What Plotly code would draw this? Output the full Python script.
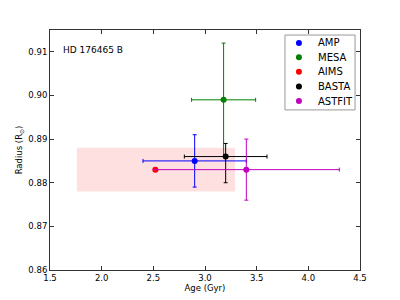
import plotly.graph_objects as go

# Data
names = ["AMP", "MESA", "AIMS", "BASTA", "ASTFIT"]
ages = [2.90, 3.18, 2.52, 3.20, 3.40]
age_err_minus = [0.50, 0.31, 0.0, 0.40, 0.90]
age_err_plus = [0.50, 0.31, 0.0, 0.40, 0.90]
radii = [0.885, 0.899, 0.883, 0.886, 0.883]
rad_err_minus = [0.006, 0.013, 0.0, 0.006, 0.007]
rad_err_plus = [0.006, 0.013, 0.0, 0.003, 0.007]
colors = ["#0000ff", "#008000", "#ff0000", "#000000", "#bf00bf"]
has_err = [True, True, False, True, True]

# shaded region (AIMS uncertainty box)
box_age = [1.76, 3.29]
box_radius = [0.878, 0.888]

x_ticks = [1.5, 2.0, 2.5, 3.0, 3.5, 4.0, 4.5]
y_ticks = [0.86, 0.87, 0.88, 0.89, 0.90, 0.91]

font = "DejaVu Sans"
fig = go.Figure()

for i, n in enumerate(names):
    kw = {}
    if has_err[i]:
        kw["error_x"] = dict(type="data", symmetric=False, array=[age_err_plus[i]],
                             arrayminus=[age_err_minus[i]], color=colors[i],
                             thickness=1, width=2)
        kw["error_y"] = dict(type="data", symmetric=False, array=[rad_err_plus[i]],
                             arrayminus=[rad_err_minus[i]], color=colors[i],
                             thickness=1, width=2)
    fig.add_trace(go.Scatter(x=[ages[i]], y=[radii[i]], mode="markers", name=n,
                             marker=dict(color=colors[i], size=6, line=dict(width=0)),
                             showlegend=False, **kw))

fig.add_shape(type="rect", xref="x", yref="y", x0=box_age[0], x1=box_age[1],
              y0=box_radius[0], y1=box_radius[1],
              fillcolor="rgba(255,0,0,0.12)", line=dict(width=0), layer="below")

fig.add_annotation(text="HD 176465 B", xref="paper", yref="paper", x=0.035, y=0.915,
                   xanchor="left", yanchor="middle", showarrow=False,
                   font=dict(family=font, size=9, color="black"))

# Legend (matplotlib-like, compact), drawn on an overlay axis spanning the plot area
leg_x0, leg_x1, leg_top, leg_bot = 0.758, 0.984, 0.979, 0.667
leg_marker_x, leg_text_x = 0.803, 0.858
leg_rows = [0.946, 0.886, 0.826, 0.765, 0.704]
fig.add_shape(type="rect", xref="paper", yref="paper", x0=leg_x0, x1=leg_x1,
              y0=leg_bot, y1=leg_top, fillcolor="white",
              line=dict(color="#999999", width=1), layer="below")
fig.add_trace(go.Scatter(x=[leg_marker_x] * len(names), y=leg_rows, mode="markers",
                         marker=dict(color=colors, size=6, line=dict(width=0)),
                         xaxis="x2", yaxis="y2", showlegend=False, hoverinfo="skip"))
for n, yy in zip(names, leg_rows):
    fig.add_annotation(text=n, xref="paper", yref="paper", x=leg_text_x, y=yy,
                       xanchor="left", yanchor="middle", showarrow=False,
                       font=dict(family=font, size=10, color="black"))

axis_common = dict(showgrid=False, zeroline=False, ticks="inside", ticklen=4,
                   tickcolor="#333333", showline=True, linecolor="#333333", linewidth=1,
                   mirror="ticks", automargin=False,
                   tickfont=dict(family=font, size=8.5, color="black"))

# page body has 8px default margin; compensate so plot area sits at x 50-360, y 30-270
fig.update_layout(
    width=392, height=292,
    margin=dict(l=42, r=40, t=22, b=30),
    paper_bgcolor="white", plot_bgcolor="white",
    font=dict(family=font, size=8.5, color="black"),
    xaxis=dict(range=[1.5, 4.5], tickvals=x_ticks,
               ticktext=[f"{v:.1f}" for v in x_ticks],
               title=dict(text="Age (Gyr)", standoff=2, font=dict(family=font, size=8.5)),
               **axis_common),
    yaxis=dict(range=[0.86, 0.915], tickvals=y_ticks,
               ticktext=[f"{v:.2f}" for v in y_ticks],
               title=dict(text="Radius (R<sub>⊙</sub>)", standoff=4, font=dict(family=font, size=8.5)),
               **axis_common),
    xaxis2=dict(overlaying="x", range=[0, 1], visible=False, fixedrange=True),
    yaxis2=dict(overlaying="y", range=[0, 1], visible=False, fixedrange=True),
    showlegend=False,
)

fig.write_html("out.html")
